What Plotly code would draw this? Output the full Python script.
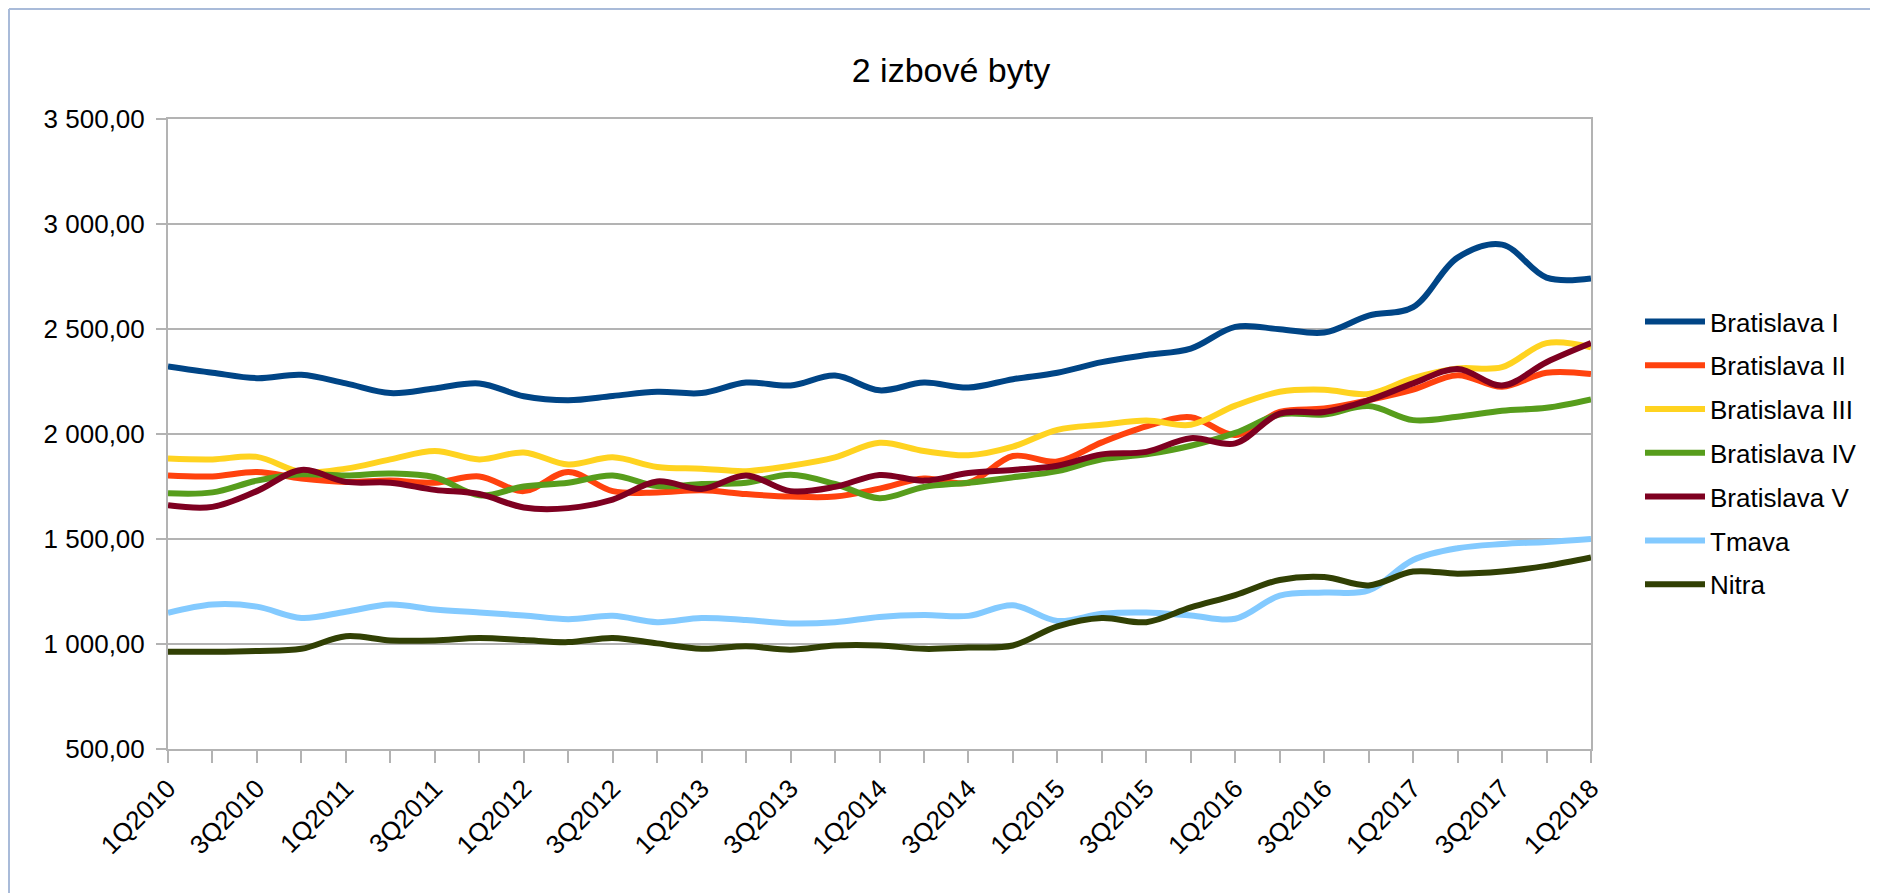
import plotly.graph_objects as go

quarters = [f"{q}Q{y}" for y in range(2010, 2018) for q in range(1, 5)] + ["1Q2018"]
x_labels = [q if i % 2 == 0 else "" for i, q in enumerate(quarters)]

bratislava_1 = [2322, 2292, 2266, 2282, 2241, 2195, 2217, 2241, 2180, 2161, 2181, 2201, 2195, 2245, 2231, 2278,
                2208, 2245, 2221, 2261, 2292, 2342, 2376, 2407, 2510, 2499, 2483, 2564, 2604, 2840, 2902, 2745, 2741]
bratislava_2 = [1802, 1798, 1819, 1788, 1772, 1778, 1768, 1798, 1728, 1819, 1728, 1722, 1732, 1714, 1702, 1702,
                1740, 1788, 1768, 1895, 1869, 1960, 2036, 2080, 1995, 2105, 2121, 2161, 2211, 2280, 2225, 2292, 2286]
bratislava_3 = [1883, 1879, 1891, 1819, 1835, 1879, 1919, 1879, 1912, 1855, 1889, 1843, 1835, 1823, 1849, 1889,
                1958, 1919, 1899, 1940, 2020, 2044, 2064, 2044, 2135, 2201, 2211, 2191, 2266, 2312, 2318, 2433, 2413]
bratislava_4 = [1718, 1722, 1778, 1808, 1802, 1812, 1794, 1708, 1750, 1768, 1802, 1752, 1762, 1768, 1806, 1762,
                1694, 1748, 1768, 1794, 1823, 1879, 1903, 1944, 2005, 2093, 2093, 2133, 2066, 2082, 2111, 2125, 2165]
bratislava_5 = [1661, 1653, 1728, 1829, 1772, 1768, 1734, 1714, 1650, 1647, 1688, 1774, 1738, 1802, 1728, 1748,
                1805, 1778, 1814, 1829, 1849, 1903, 1915, 1980, 1955, 2097, 2105, 2161, 2241, 2310, 2231, 2342, 2433]
tmava = [1148, 1188, 1178, 1124, 1154, 1188, 1164, 1150, 1136, 1118, 1134, 1104, 1124, 1114, 1098, 1104,
         1129, 1138, 1134, 1184, 1110, 1144, 1150, 1136, 1120, 1230, 1245, 1255, 1400, 1456, 1476, 1486, 1500]
nitra = [963, 963, 967, 977, 1037, 1017, 1017, 1029, 1019, 1009, 1029, 1003, 977, 989, 973, 993,
         993, 977, 983, 993, 1084, 1124, 1104, 1174, 1233, 1305, 1319, 1279, 1345, 1335, 1345, 1372, 1412]

series_names = ["Bratislava I", "Bratislava II", "Bratislava III", "Bratislava IV", "Bratislava V", "Tmava", "Nitra"]
series_values = [bratislava_1, bratislava_2, bratislava_3, bratislava_4, bratislava_5, tmava, nitra]
colors = ["#004586", "#ff420e", "#ffd320", "#579d1c", "#7e0021", "#83caff", "#314004"]

y_tickvals = [500, 1000, 1500, 2000, 2500, 3000, 3500]
y_ticktext = ["500,00", "1 000,00", "1 500,00", "2 000,00", "2 500,00", "3 000,00", "3 500,00"]

FONT = "Liberation Sans, Arial, sans-serif"
GRID = "#b3b3b3"

fig = go.Figure()
for name, vals, col in zip(series_names, series_values, colors):
    fig.add_trace(go.Scatter(
        x=quarters, y=vals, name=name, mode="lines",
        line=dict(color=col, width=6, shape="spline", smoothing=1.0),
        legendgroup=name,
    ))

# page body adds an 8px offset; compensate so the plot lands where the reference has it
OFF = 8
W, H = 1878, 893
L, R, T, B = 168 - OFF, 1591 - OFF, 119 - OFF, 749 - OFF
pw, ph = R - L, B - T

def px2paper_x(px):
    return (px - OFF - L) / pw

def px2paper_y(py):
    return (B - (py - OFF)) / ph

fig.update_layout(
    width=W, height=H,
    margin=dict(l=L, r=W - R, t=T, b=H - B, autoexpand=False),
    paper_bgcolor="white", plot_bgcolor="white",
    font=dict(family=FONT, size=26, color="black"),
    title=dict(text="2 izbové byty", font=dict(family=FONT, size=34, color="black"),
               xref="container", x=(951 - OFF) / W, xanchor="center",
               yref="container", y=1 - (70 - OFF) / H, yanchor="middle"),
    showlegend=True,
    legend=dict(x=px2paper_x(1640), xanchor="left", y=px2paper_y(298), yanchor="top",
                font=dict(family=FONT, size=26, color="black"),
                tracegroupgap=7, itemwidth=60, bgcolor="rgba(0,0,0,0)"),
    xaxis=dict(
        type="category", range=[0, len(quarters) - 1],
        tickmode="array", tickvals=quarters, ticktext=x_labels,
        tickangle=-45, ticks="outside", ticklen=12, tickcolor=GRID, tickwidth=2,
        showgrid=False, showline=True, linecolor=GRID, linewidth=2, mirror=True,
        tickfont=dict(family=FONT, size=26, color="black"),
        zeroline=False,
    ),
    yaxis=dict(
        range=[500, 3500], tickmode="array", tickvals=y_tickvals, ticktext=y_ticktext,
        ticks="outside", ticklen=10, tickcolor=GRID, tickwidth=2,
        showgrid=True, gridcolor=GRID, gridwidth=2,
        showline=True, linecolor=GRID, linewidth=2, mirror=True,
        tickfont=dict(family=FONT, size=26, color="black"),
        ticklabelstandoff=6, zeroline=False,
    ),
)

# outer frame (top & left edges of the chart window)
frame_col = "#a9bbd9"
fig.add_shape(type="line", xref="paper", yref="paper",
              x0=px2paper_x(9), x1=px2paper_x(W + 40), y0=px2paper_y(9), y1=px2paper_y(9),
              line=dict(color=frame_col, width=2))
fig.add_shape(type="line", xref="paper", yref="paper",
              x0=px2paper_x(9), x1=px2paper_x(9), y0=px2paper_y(9), y1=px2paper_y(H + 40),
              line=dict(color=frame_col, width=2))

fig.write_html("out.html")
